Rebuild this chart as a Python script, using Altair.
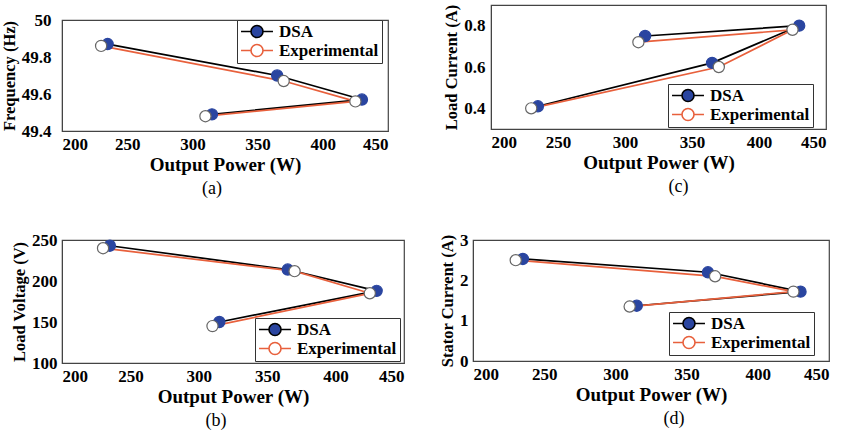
import altair as alt
import pandas as pd

series = ["DSA", "Experimental"]
power_dsa = [235, 365, 430, 315]
power_exp = [230, 370, 425, 310]

freq_dsa = [49.87, 49.70, 49.57, 49.49]
freq_exp = [49.86, 49.67, 49.56, 49.48]
vload_dsa = [243, 214, 188, 150]
vload_exp = [240, 212, 185, 145]
iload_dsa = [0.41, 0.62, 0.80, 0.75]
iload_exp = [0.40, 0.60, 0.78, 0.72]
istat_dsa = [2.53, 2.20, 1.72, 1.37]
istat_exp = [2.50, 2.10, 1.72, 1.35]

x_ticks = [200, 250, 300, 350, 400, 450]

FONT = "Liberation Serif, Times New Roman, serif"
BLUE = "#2a45a0"
RED = "#e8603c"
SYM = "M-2.13,0H-0.8M0.8,0H2.13M0.8,0A0.8,0.8,0,1,1,-0.8,0A0.8,0.8,0,1,1,0.8,0Z"
RS = dict(stroke="independent", fill="independent")


def panel(ydsa, yexp, ytitle, ydom, yticks, yfmt, caption, w, h, lx, ly, dx, ylp):
    df = pd.DataFrame({
        "power": power_dsa + power_exp,
        "value": ydsa + yexp,
        "series": [series[0]] * len(ydsa) + [series[1]] * len(yexp),
        "step": list(range(len(ydsa))) + list(range(len(yexp))),
    })
    leg = alt.Legend(
        title=None, orient="none", legendX=lx, legendY=ly,
        symbolType=SYM, symbolSize=225, symbolStrokeWidth=1.6, symbolOffset=8.5,
        strokeColor="#333", fillColor="white", padding=3,
        labelFont=FONT, labelFontWeight="bold", labelFontSize=17,
        labelColor="black", rowPadding=0, labelOffset=13.5,
    )
    base = alt.Chart(df).encode(
        x=alt.X("power:Q", scale=alt.Scale(domain=[200, 450], nice=False, zero=False),
                axis=alt.Axis(title="Output Power (W)", values=x_ticks, labelPadding=5, titlePadding=3)),
        y=alt.Y("value:Q", scale=alt.Scale(domain=ydom, nice=False, zero=False),
                axis=alt.Axis(title=ytitle, values=yticks, format=yfmt, labelPadding=ylp, titlePadding=4)),
        order="step:O",
    )
    lines = base.mark_line(strokeWidth=1.7).encode(
        stroke=alt.Stroke("series:N", scale=alt.Scale(domain=series, range=["black", RED]), legend=leg)
    )
    pts = base.mark_circle(size=125, opacity=1, strokeWidth=1.2).encode(
        fill=alt.Fill("series:N", scale=alt.Scale(domain=series, range=[BLUE, "white"]), legend=leg),
        stroke=alt.condition("datum.series === 'DSA'", alt.value(BLUE), alt.value("#666")),
    )
    return alt.layer(lines, pts).properties(
        width=w, height=h,
        title=alt.TitleParams(caption, orient="bottom", anchor="middle", frame="group",
                              font=FONT, fontSize=18, fontWeight="normal", color="black",
                              offset=6, dx=dx),
    )


a = panel(freq_dsa, freq_exp, "Frequency (Hz)", [49.4, 50], [49.4, 49.6, 49.8, 50], "~g",
          "(a)", 326, 111, 175, 0, -13, 11)
c = panel(iload_dsa, iload_exp, "Load Current (A)", [0.3, 0.9], [0.4, 0.6, 0.8], ".1f",
          "(c)", 335, 124, 177, 79, 20, 6)
b = panel(vload_dsa, vload_exp, "Load Voltage (V)", [100, 250], [100, 150, 200, 250], "d",
          "(b)", 342, 123, 193, 78, -17, 5)
d = panel(istat_dsa, istat_exp, "Stator Current (A)", [0, 3], [0, 1, 2, 3], "d",
          "(d)", 356, 121, 196, 72, 23, 5)

# empty layout spacer (no data rows) that lowers panel (a) relative to panel (c)
spacer = alt.Chart(pd.DataFrame({"v": pd.Series([], dtype=float)})).mark_point().encode(
    x=alt.X("v:Q", axis=None)
).properties(width=1, height=1, view=alt.ViewBackground(stroke=None))

a_box = alt.vconcat(spacer, a, spacing=4).resolve_scale(**RS).resolve_legend(**RS)
row1 = alt.hconcat(a_box, c, spacing=54).resolve_scale(**RS).resolve_legend(**RS)
row2 = alt.hconcat(b, d, spacing=33).resolve_scale(**RS).resolve_legend(**RS)

chart = alt.vconcat(row1, row2, spacing=31).resolve_scale(**RS).resolve_legend(**RS).properties(
    padding={"left": 0, "top": 3, "right": 2, "bottom": 0},
    background="white",
).configure_view(stroke="#444", strokeWidth=1.2).configure_axis(
    labelFont=FONT, labelFontWeight="bold", labelFontSize=17, labelColor="black",
    titleFont=FONT, titleFontWeight="bold", titleColor="black",
    ticks=False, grid=False, domainColor="#444",
).configure_axisX(titleFontSize=19).configure_axisY(titleFontSize=16.5)

chart.save("out.html", embed_options={"renderer": "svg", "actions": False})
